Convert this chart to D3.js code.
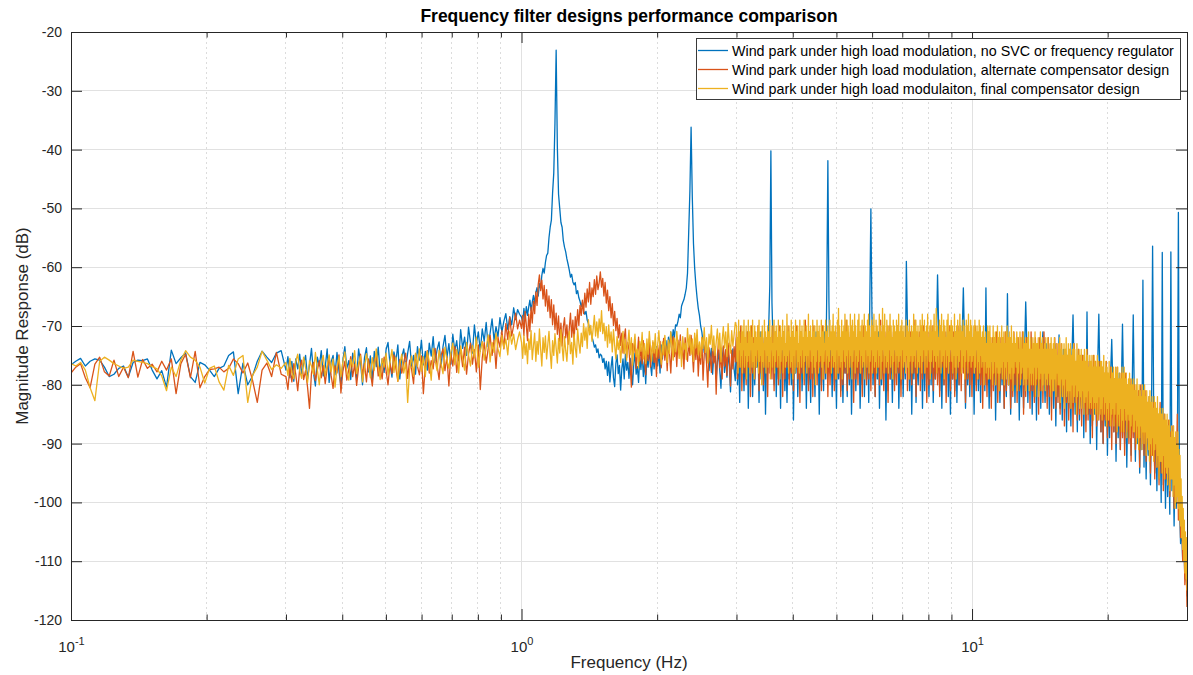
<!DOCTYPE html>
<html>
<head>
<meta charset="utf-8">
<script src="https://cdn.jsdelivr.net/npm/d3@7"></script>
<style>
  body { margin: 0; background: #fff; }
  svg { display: block; }
</style>
</head>
<body>
<svg id="chart" width="1193" height="675"></svg>
<script>
// ---------------------------------------------------------------
// Spectrum data. Each series is split into four frequency bands;
// the bins of a band are spaced logarithmically between its edges.
// ---------------------------------------------------------------
const bandEdges = [[0.1, 0.3], [0.3, 1.0], [1.0, 3.0], [3.0, 30]];

const seriesNames = [
  "Wind park under high load modulation, no SVC or frequency regulator",
  "Wind park under high load modulation, alternate compensator design",
  "Wind park under high load modulaiton, final compensator design"
];
const seriesColors = ["#0072BD", "#D95319", "#EDB120"];

const yTicks = [-120, -110, -100, -90, -80, -70, -60, -50, -40, -30, -20];
const xMajorTicks = [0.1, 1, 10];
const xTickBase = ["10", "10", "10"];
const xTickExp = ["-1", "0", "1"];
const xMinorTicks = [0.2, 0.3, 0.4, 0.5, 0.6, 0.7, 0.8, 0.9, 2, 3, 4, 5, 6, 7, 8, 9, 20];

// --- no SVC / no regulator (dB) ---
const noSvcA = [
-76.6,-76.0,-75.5,-76.8,-76.0,-75.6,-75.8,-77.0,-78.6,-78.2,
-77.2,-76.8,-78.7,-76.2,-75.8,-75.9,-75.6,-77.5,-79.0,-77.6,
-80.4,-74.1,-76.4,-75.4,-74.6,-78.6,-79.6,-76.2,-76.6,-77.5,
-78.6,-77.2,-76.8,-75.0,-74.4,-81.5,-76.3,-80.0,-78.5,-76.0,
-74.3,-75.3,-76.2,-74.6,-74.2];
const noSvcB = [
-77.5,-75.2,-78.8,-76.0,-79.4,-75.6,-77.3,-74.8,-78.1,-76.4,
-75.0,-79.0,-76.6,-73.8,-77.9,-80.2,-75.3,-76.8,-74.2,-78.5,
-77.0,-73.9,-79.6,-76.1,-75.0,-78.3,-74.5,-77.6,-80.3,-75.8,
-73.5,-77.2,-75.9,-79.1,-74.6,-76.7,-78.9,-73.9,-76.2,-80.0,
-75.4,-73.7,-77.8,-75.1,-79.3,-74.3,-76.9,-73.6,-78.0,-75.6,
-77.9,-74.0,-72.8,-76.5,-78.7,-74.4,-76.0,-73.2,-79.0,-75.3,
-73.9,-77.1,-74.6,-72.6,-76.8,-75.0,-78.2,-73.5,-75.8,-72.4,
-76.6,-74.3,-77.5,-72.9,-75.1,-71.8,-76.2,-74.0,-72.7,-77.0,
-73.5,-71.6,-75.4,-73.0,-76.5,-71.4,-74.2,-72.5,-75.9,-70.6,
-73.8,-71.9,-75.0,-70.2,-72.8,-74.6,-69.8,-73.1,-71.0,-74.3,
-70.5,-72.6,-69.4,-73.5,-71.2,-68.8,-72.4,-70.1,-71.8,-68.6,
-71.0,-69.2,-67.9,-70.6,-68.4,-69.8,-66.9,-68.9,-67.2,-68.0];
const noSvcC = [
-68.5,-69.4,-67.0,-68.8,-66.7,-68.2,-66.8,-65.6,-67.4,-66.0,
-64.8,-66.2,-64.3,-63.5,-64.9,-62.8,-63.6,-61.4,-60.2,-61.0,
-59.2,-58.0,-57.6,-55.0,-53.2,-52.0,-47.4,-44.0,-35.5,-23.1,
-39.5,-47.6,-50.0,-52.4,-53.2,-55.5,-56.6,-57.4,-58.6,-59.5,
-60.5,-61.7,-61.2,-62.5,-63.0,-62.6,-64.5,-64.0,-65.2,-65.8,
-66.7,-65.9,-67.4,-68.0,-67.5,-69.0,-69.6,-70.4,-71.0,-71.8,
-72.6,-73.6,-73.2,-74.5,-73.9,-75.4,-74.8,-75.0,-76.2,-75.5,
-77.3,-76.0,-78.4,-76.1,-79.5,-77.0,-75.2,-78.8,-80.3,-76.4,
-74.9,-78.1,-76.7,-80.9,-77.2,-75.6,-79.0,-74.8,-77.5,-76.2,
-78.9,-75.5,-77.8,-80.0,-76.4,-74.6,-78.2,-76.9,-79.6,-75.3,
-77.4,-74.4,-78.6,-76.0,-79.8,-75.1,-77.0,-73.8,-76.5,-78.4,
-74.7,-77.3,-75.4,-73.5,-76.8,-74.2,-78.0,-73.2,-75.6,-72.8,
-74.4,-72.5,-75.3,-71.9,-73.6,-71.0,-72.8,-70.6,-71.9,-69.8,
-70.0,-69.2,-68.0,-68.6,-66.6,-66.0,-65.5,-64.6,-63.5,-61.0,
-54.0,-47.0,-36.2,-48.0,-56.0,-60.2,-63.0,-65.2,-67.0,-68.2,
-70.0,-71.0,-72.8,-74.5,-73.2,-76.0,-74.4,-77.6,-75.3,-73.8,
-78.2,-75.0,-73.5,-79.0,-76.2,-74.1,-77.5,-80.6,-75.4,-73.6,
-77.9,-75.1,-78.7,-74.3,-76.8,-81.2,-75.9,-73.9,-77.4,-79.3];
const noSvcD = [
-72,-80,-74,-83,-71,-78,-75,-81,-73,-79,
-71,-84,-74,-78,-72,-82,-75,-80,-73,-77,
-74,-83,-71,-79,-73,-81,-72,-85,-74,-78,
-70,-63,-40.2,-66,-73,-80,-71,-82,-74,-79,
-72,-84,-73,-78,-71,-81,-75,-83,-72,-79,
-74,-80,-71,-86,-73,-78,-72,-82,-75,-79,
-71,-81,-74,-78,-72,-84,-73,-80,-75,-83,
-72,-79,-74,-82,-71,-78,-73,-85,-72,-80,
-74,-81,-71,-79,-64,-41.9,-66,-78,-73,-82,
-72,-80,-75,-84,-71,-79,-73,-81,-72,-83,
-74,-78,-71,-82,-73,-80,-72,-85,-74,-79,
-71,-81,-73,-78,-72,-84,-75,-80,-71,-82,
-73,-79,-72,-83,-66,-50.1,-68,-80,-74,-82,
-72,-79,-71,-84,-73,-80,-75,-78,-72,-86,
-73,-81,-71,-79,-74,-83,-72,-80,-73,-78,
-71,-84,-74,-80,-72,-82,-73,-79,-59,-70,
-74,-81,-72,-85,-73,-79,-71,-83,-74,-80,
-72,-78,-73,-84,-71,-81,-74,-79,-72,-82,
-73,-80,-71,-83,-74,-79,-72,-61.3,-70,-81,
-73,-84,-72,-80,-74,-78,-71,-82,-73,-85,
-72,-79,-74,-81,-71,-83,-73,-80,-72,-78,
-71,-63.5,-72,-84,-73,-80,-74,-82,-71,-79,
-73,-85,-72,-80,-74,-81,-71,-83,-73,-79,
-72,-81,-63.5,-80,-74,-84,-73,-82,-75,-80,
-72,-86,-74,-81,-73,-83,-75,-80,-72,-84,
-74,-82,-64.5,-80,-73,-85,-75,-81,-72,-83,
-74,-80,-73,-86,-75,-82,-72,-84,-74,-65.9,
-73,-83,-75,-81,-72,-85,-74,-82,-73,-86,
-75,-81,-73,-84,-74,-71,-76,-83,-73,-82,
-75,-85,-74,-81,-76,-84,-73,-87,-75,-82,
-71.5,-84,-76,-86,-74,-83,-77,-88,-75,-84,
-76,-87,-75,-68.1,-77,-85,-76,-88,-74,-86,
-77,-84,-75,-89,-76,-86,-67.6,-85,-77,-90,
-76,-87,-78,-85,-77,-91,-76,-68,-79,-88,
-78,-90,-79,-87,-77,-92,-80,-89,-78,-72.3,
-80,-88,-79,-93,-81,-89,-78,-91,-80,-69.7,
-81,-90,-79,-94,-82,-89,-80,-92,-81,-68.1,
-82,-93,-81,-90,-83,-95,-82,-91,-62.2,-94,
-83,-96,-84,-92,-82,-97,-85,-56.4,-84,-95,
-86,-98,-85,-96,-87,-100,-57.5,-97,-87,-101,
-88,-99,-90,-102,-57.4,-98,-91,-104,-93,-101,
-95,-50.7,-100,-107,-104,-110,-106,-113,-109,-116];

// --- alternate compensator design (dB) ---
const altA = [
-78.0,-77.0,-76.4,-78.8,-80.5,-76.5,-75.3,-77.8,-78.5,-75.8,
-78.6,-77.0,-78.8,-74.3,-78.7,-75.7,-77.2,-76.5,-77.8,-76.0,
-77.5,-75.6,-81.5,-76.4,-74.8,-78.8,-74.3,-80.5,-78.6,-77.4,
-77.3,-77.0,-77.8,-77.2,-75.6,-76.4,-78.0,-76.3,-79.2,-83.0,
-77.5,-76.3,-78.6,-74.5,-78.2];
const altB = [
-78.6,-80.8,-77.0,-79.5,-76.4,-78.2,-81.0,-77.3,-75.8,-79.1,
-77.6,-80.4,-84.0,-78.0,-76.2,-79.3,-77.5,-75.9,-78.8,-76.7,
-79.8,-77.1,-75.4,-78.4,-80.6,-76.8,-78.0,-74.9,-81.4,-77.7,
-76.0,-79.2,-77.4,-75.2,-78.6,-76.5,-80.1,-77.0,-74.8,-78.3,
-76.4,-79.5,-75.6,-77.8,-80.2,-76.1,-74.7,-78.5,-76.9,-79.0,
-75.3,-77.6,-80.0,-76.3,-78.1,-74.9,-77.2,-79.4,-75.7,-78.0,
-76.2,-74.6,-78.9,-75.8,-77.4,-79.8,-74.8,-76.9,-78.3,-75.1,
-81.5,-76.6,-74.2,-78.0,-75.9,-77.3,-73.8,-76.7,-79.1,-75.0,
-73.9,-77.6,-75.2,-80.2,-74.6,-76.8,-73.5,-77.9,-75.0,-74.2,
-76.9,-73.6,-78.2,-74.8,-72.9,-76.5,-74.0,-77.8,-73.2,-80.8,
-75.4,-72.8,-76.3,-73.9,-71.6,-75.0,-72.4,-77.2,-71.9,-73.6,
-70.8,-73.9,-69.6,-72.3,-68.5,-71.7,-69.9,-67.8,-70.5,-69.0];
const altC = [
-70.4,-68.2,-71.6,-67.5,-69.8,-72.5,-68.0,-70.9,-66.8,-69.5,
-65.8,-67.9,-64.2,-66.5,-62.9,-61.3,-64.0,-62.2,-65.4,-63.1,
-66.6,-63.8,-67.5,-64.9,-68.6,-65.5,-69.8,-66.4,-70.6,-67.8,
-71.4,-68.3,-72.6,-69.5,-73.4,-70.2,-68.6,-72.0,-69.8,-73.1,
-70.4,-67.8,-71.9,-69.0,-72.7,-68.4,-70.6,-67.2,-69.9,-66.5,
-68.2,-65.6,-67.9,-64.4,-66.8,-63.7,-65.9,-62.6,-66.3,-63.5,
-65.0,-62.1,-64.6,-61.5,-63.8,-62.7,-60.8,-63.4,-61.9,-64.9,
-62.6,-66.1,-63.9,-67.4,-65.0,-68.6,-66.2,-69.9,-67.5,-70.8,
-68.7,-72.0,-69.8,-73.3,-71.2,-74.6,-72.0,-70.5,-75.4,-72.8,
-74.1,-76.8,-80.4,-73.0,-74.5,-72.3,-77.2,-74.8,-71.9,-76.0,
-73.6,-76.4,-72.5,-75.7,-78.3,-73.1,-75.9,-72.2,-77.0,-74.4,
-72.8,-76.2,-74.0,-78.6,-73.3,-75.5,-72.6,-77.1,-74.7,-72.1,
-75.8,-73.4,-77.6,-72.9,-74.8,-78.0,-73.6,-71.8,-75.2,-73.0,
-76.9,-72.4,-74.5,-71.5,-75.6,-73.2,-77.3,-72.0,-74.1,-76.0,
-72.7,-75.0,-71.6,-74.4,-77.8,-73.0,-75.7,-72.3,-78.5,-74.2,
-76.5,-72.0,-79.2,-74.9,-72.8,-76.6,-80.4,-73.7,-75.5,-77.9,
-73.1,-76.3,-74.4,-81.6,-75.0,-72.6,-77.1,-74.7,-79.0,-73.4,
-76.8,-74.0,-78.4,-72.9,-75.6,-80.2,-74.1,-77.3,-73.5,-76.1];
const altD = [
-71,-79,-73,-77,-70,-81,-72,-78,-74,-80,
-71,-77,-73,-82,-70,-78,-72,-79,-74,-76,
-70,-81,-73,-78,-71,-80,-72,-77,-74,-82,
-71,-78,-73,-79,-70,-81,-72,-77,-73,-80,
-70,-78,-72,-82,-71,-79,-74,-77,-70,-80,
-73,-78,-71,-81,-72,-77,-70,-79,-73,-83,
-71,-78,-72,-80,-69,-77,-73,-81,-71,-79,
-72,-82,-70,-78,-73,-80,-71,-77,-72,-81,
-70,-79,-73,-78,-71,-82,-72,-80,-74,-77,
-71,-81,-72,-79,-70,-78,-73,-82,-71,-80,
-72,-78,-69,-81,-73,-79,-71,-77,-72,-83,
-70,-79,-73,-80,-71,-78,-72,-82,-70,-77,
-73,-80,-71,-79,-72,-81,-70,-78,-73,-82,
-71,-77,-72,-80,-69,-79,-73,-81,-71,-78,
-72,-83,-70,-79,-73,-78,-71,-81,-72,-80,
-70,-78,-73,-82,-71,-79,-72,-77,-70,-81,
-73,-79,-71,-80,-72,-78,-69,-82,-73,-77,
-71,-81,-72,-79,-70,-78,-73,-83,-71,-80,
-72,-78,-70,-81,-73,-79,-71,-80,-72,-82,
-70,-77,-73,-80,-71,-83,-72,-78,-70,-81,
-73,-79,-71,-82,-72,-78,-70,-80,-73,-81,
-71,-78,-72,-83,-70,-79,-73,-80,-71,-82,
-72,-78,-70,-81,-73,-79,-71,-80,-72,-84,
-72,-80,-74,-82,-71,-79,-73,-84,-72,-81,
-74,-80,-71,-83,-73,-81,-72,-79,-74,-84,
-71,-81,-73,-80,-72,-84,-74,-82,-71,-80,
-73,-83,-72,-81,-74,-79,-71,-85,-73,-82,
-72,-80,-74,-84,-71,-81,-73,-83,-72,-80,
-74,-85,-72,-81,-73,-83,-71,-80,-74,-84,
-72,-82,-73,-86,-74,-81,-72,-84,-73,-83,
-74,-85,-73,-82,-75,-87,-74,-83,-76,-86,
-74,-84,-75,-88,-73,-83,-76,-86,-74,-85,
-76,-87,-75,-84,-77,-88,-74,-86,-76,-85,
-77,-89,-75,-84,-76,-87,-78,-86,-76,-88,
-77,-90,-78,-86,-76,-89,-79,-87,-77,-91,
-78,-88,-79,-90,-77,-87,-80,-91,-78,-89,
-79,-92,-78,-88,-80,-90,-79,-93,-81,-89,
-80,-91,-82,-89,-81,-94,-80,-90,-83,-92,
-81,-93,-83,-90,-82,-95,-84,-92,-83,-96,
-84,-94,-85,-97,-83,-95,-86,-98,-85,-96,
-87,-97,-86,-99,-88,-96,-87,-101,-90,-98,
-85,-103,-93,-106,-100,-110,-104,-114,-108,-117.8];

// --- final compensator design (dB) ---
const finalA = [
-76.4,-76.8,-76.2,-77.5,-80.5,-82.7,-76.0,-75.3,-75.8,-76.4,
-76.8,-77.2,-77.0,-75.8,-76.0,-76.2,-76.4,-76.9,-77.3,-78.5,
-81.0,-77.0,-78.6,-75.8,-74.2,-75.3,-75.8,-77.0,-79.7,-77.2,
-76.8,-79.5,-80.9,-76.7,-78.4,-75.6,-75.0,-83.0,-78.4,-77.0,
-74.3,-75.8,-77.4,-76.6,-77.2];
const finalB = [
-76.2,-78.4,-75.5,-77.9,-79.0,-76.0,-74.8,-77.6,-78.9,-75.3,
-77.1,-79.6,-75.9,-76.8,-78.2,-74.5,-77.4,-80.0,-76.3,-75.0,
-78.5,-76.7,-74.9,-77.8,-75.6,-80.4,-77.0,-75.2,-78.6,-76.1,
-74.4,-77.7,-79.2,-75.7,-76.9,-74.2,-78.1,-76.4,-75.1,-79.5,
-77.2,-74.7,-76.6,-78.8,-75.4,-77.5,-73.9,-76.8,-79.1,-75.5,
-77.0,-74.6,-78.3,-76.1,-74.0,-77.9,-75.3,-79.4,-76.5,-74.8,
-78.0,-76.2,-83.0,-77.4,-75.1,-78.5,-74.6,-76.9,-73.9,-77.7,
-75.2,-78.6,-74.3,-76.0,-79.2,-73.8,-75.9,-77.6,-74.1,-76.4,
-78.1,-73.6,-75.8,-77.2,-74.5,-72.9,-76.6,-74.0,-78.0,-73.4,
-75.6,-77.5,-72.8,-74.9,-76.8,-73.3,-75.4,-71.9,-77.0,-74.2,
-72.6,-75.8,-73.7,-71.5,-76.1,-72.8,-74.5,-71.2,-73.9,-75.2,
-71.6,-73.8,-72.2,-74.9,-70.9,-73.1,-71.4,-74.0,-72.3,-71.0];
const finalC = [
-72.8,-75.5,-71.6,-74.9,-73.0,-76.4,-72.2,-74.0,-70.8,-75.7,
-73.4,-71.2,-76.0,-72.6,-74.8,-70.5,-73.9,-76.8,-72.0,-74.5,
-71.7,-75.6,-73.2,-70.9,-74.4,-77.2,-72.5,-75.0,-71.3,-73.8,
-76.3,-72.1,-74.6,-70.6,-73.5,-75.9,-71.8,-74.2,-76.0,-72.4,
-70.9,-74.7,-72.8,-76.5,-71.4,-73.7,-75.3,-70.5,-72.9,-74.6,
-71.2,-73.5,-69.6,-72.4,-70.3,-73.8,-68.9,-71.5,-69.9,-72.6,
-70.4,-68.2,-71.7,-69.3,-72.0,-68.8,-70.9,-67.4,-71.3,-69.5,
-72.5,-70.1,-73.6,-69.8,-72.9,-71.0,-74.4,-70.6,-73.3,-75.6,
-71.8,-74.0,-72.4,-76.2,-73.1,-70.9,-74.7,-72.3,-75.8,-73.0,
-70.7,-74.9,-72.0,-76.7,-73.5,-71.4,-75.2,-73.9,-77.1,-72.6,
-74.3,-71.1,-75.6,-73.0,-76.4,-72.2,-74.8,-70.9,-73.7,-76.0,
-72.5,-74.6,-71.3,-75.3,-73.2,-70.8,-74.1,-76.5,-72.7,-74.9,
-71.6,-73.9,-76.2,-72.4,-74.7,-71.0,-73.5,-75.8,-72.1,-74.4,
-70.9,-73.2,-75.5,-72.6,-76.9,-71.8,-74.0,-72.9,-75.7,-70.4,
-73.6,-71.5,-74.8,-72.2,-76.0,-71.2,-73.7,-70.6,-74.9,-72.7,
-75.4,-71.9,-73.8,-70.3,-74.5,-72.0,-76.3,-71.4,-73.1,-69.9,
-74.2,-71.7,-75.0,-72.8,-70.5,-73.9,-71.2,-76.1,-72.5,-70.1,
-73.7,-71.0,-75.2,-69.6,-72.9,-74.6,-70.8,-73.4,-71.5,-69.4];
const finalD = [
-70,-76,-72,-78,-69,-74,-71,-77,-73,-75,
-70,-78,-71,-74,-69,-77,-72,-75,-70,-79,
-73,-76,-69,-75,-71,-78,-70,-74,-72,-77,
-69,-76,-73,-79,-70,-75,-71,-77,-72,-74,
-70,-78,-69,-76,-72,-75,-71,-80,-70,-76,
-73,-77,-69,-74,-71,-78,-72,-75,-70,-77,
-71,-76,-69,-79,-72,-74,-70,-77,-73,-75,
-69,-78,-71,-76,-70,-74,-72,-77,-69,-75,
-71,-79,-70,-76,-72,-74,-69,-78,-71,-75,
-70,-77,-73,-76,-68,-75,-71,-78,-70,-74,
-72,-77,-69,-76,-71,-79,-70,-75,-72,-78,
-69,-74,-71,-77,-70,-76,-73,-78,-69,-75,
-71,-77,-70,-74,-72,-79,-69,-76,-71,-75,
-70,-78,-72,-75,-68,-77,-71,-74,-70,-76,
-72,-78,-69,-75,-71,-77,-70,-80,-72,-76,
-69,-74,-71,-78,-70,-76,-72,-75,-69,-77,
-71,-79,-70,-76,-73,-74,-69,-78,-71,-75,
-70,-77,-72,-76,-69,-74,-71,-78,-70,-75,
-68,-77,-71,-76,-70,-79,-72,-74,-69,-78,
-67,-75,-70,-77,-72,-76,-69,-79,-71,-74,
-70,-76,-68,-77,-71,-75,-69,-78,-70,-74,
-72,-77,-68,-75,-70,-79,-69,-76,-71,-74,
-68,-78,-70,-75,-72,-77,-69,-76,-68,-74,
-71,-78,-70,-75,-69,-77,-72,-76,-68,-79,
-70,-74,-71,-77,-69,-75,-68,-78,-70,-76,
-72,-74,-69,-78,-70,-75,-68,-77,-71,-76,
-69,-78,-70,-74,-72,-77,-68,-75,-70,-79,
-71,-76,-67,-74,-70,-78,-68,-75,-72,-77,
-69,-76,-70,-78,-71,-74,-68,-77,-70,-75,
-72,-79,-69,-76,-70,-74,-71,-78,-69,-75,
-70,-77,-68,-76,-71,-75,-70,-79,-69,-74,
-71,-77,-70,-76,-72,-78,-69,-75,-70,-77,
-71,-79,-69,-76,-72,-75,-70,-78,-71,-76,
-68,-75,-70,-77,-69,-74,-71,-78,-70,-76,
-72,-77,-69,-75,-70,-78,-68,-76,-71,-74,
-69,-78,-71,-75,-70,-77,-68,-74,-72,-76,
-70,-79,-69,-76,-71,-74,-70,-77,-68,-75,
-71,-76,-67,-78,-70,-75,-72,-77,-69,-74,
-70,-78,-68,-76,-71,-75,-69,-79,-70,-74,
-72,-77,-69,-75,-68,-78,-71,-76,-70,-74,
-69,-76,-70,-78,-72,-75,-68,-77,-71,-79,
-70,-75,-69,-77,-71,-76,-68,-74,-70,-78,
-71,-77,-69,-75,-70,-79,-72,-76,-69,-74,
-70,-78,-68,-76,-71,-75,-69,-77,-70,-76,
-72,-75,-70,-78,-69,-77,-71,-74,-70,-79,
-71,-76,-69,-78,-70,-75,-72,-77,-71,-76,
-70,-80,-72,-76,-71,-78,-73,-77,-70,-79,
-71,-77,-70,-79,-72,-76,-73,-80,-70,-78,
-72,-76,-71,-80,-73,-77,-70,-78,-72,-81,
-71,-78,-73,-77,-70,-79,-72,-76,-71,-80,
-73,-77,-71,-79,-70,-76,-72,-80,-71,-78,
-72,-79,-70,-77,-73,-81,-71,-78,-72,-76,
-73,-77,-71,-81,-72,-78,-74,-76,-71,-80,
-72,-78,-74,-77,-71,-80,-73,-79,-72,-81,
-73,-79,-72,-77,-71,-81,-74,-78,-72,-80,
-74,-78,-72,-80,-73,-77,-71,-82,-73,-79,
-73,-77,-72,-82,-74,-79,-71,-78,-73,-81,
-72,-80,-74,-78,-73,-81,-72,-79,-74,-80,
-72,-78,-74,-80,-73,-82,-72,-79,-74,-81,
-73,-81,-72,-79,-74,-82,-73,-78,-75,-80,
-73,-80,-72,-83,-74,-79,-73,-82,-75,-80,
-73,-84,-74,-79,-72,-82,-75,-81,-73,-83,
-74,-81,-73,-84,-75,-80,-74,-83,-73,-82,
-74,-80,-76,-85,-73,-82,-75,-81,-74,-84,
-75,-82,-74,-84,-76,-81,-75,-85,-74,-83,
-76,-82,-74,-85,-75,-81,-77,-84,-75,-83,
-76,-84,-75,-82,-77,-86,-75,-83,-76,-85,
-77,-83,-75,-86,-76,-82,-77,-85,-76,-84,
-76,-86,-77,-82,-75,-85,-78,-83,-76,-87,
-77,-84,-78,-86,-76,-83,-79,-87,-77,-85,
-78,-84,-77,-87,-79,-85,-77,-83,-78,-88,
-77,-85,-79,-87,-78,-84,-79,-88,-77,-86,
-78,-88,-77,-84,-79,-86,-78,-89,-80,-85,
-79,-86,-78,-89,-80,-87,-79,-85,-80,-88,
-79,-88,-81,-86,-80,-90,-79,-87,-82,-91,
-80,-89,-81,-87,-82,-91,-80,-88,-81,-90,
-80,-88,-82,-92,-81,-89,-83,-91,-82,-93,
-81,-90,-83,-92,-82,-89,-84,-93,-82,-91,
-83,-90,-84,-94,-82,-92,-85,-96,-84,-93,
-84,-93,-85,-95,-84,-92,-86,-96,-85,-94,
-86,-95,-85,-97,-87,-94,-86,-98,-89,-96,
-87,-96,-88,-99,-87,-97,-89,-101,-88,-100,
-90,-99,-88,-101,-91,-103,-92,-104,-96,-106,
-99,-108,-101,-110,-103,-112,-105,-113,-106,-115];

const seriesBands = [
  [noSvcA, noSvcB, noSvcC, noSvcD],
  [altA, altB, altC, altD],
  [finalA, finalB, finalC, finalD]
];

// ---------------------------------------------------------------
// Layout
// ---------------------------------------------------------------
const plotL = 71, plotR = 1187, plotT = 32, plotB = 620;
const fontFamily = "'Liberation Sans', Arial, Helvetica, sans-serif";
const ink = "#262626";

const x = d3.scaleLog().domain([0.1, 30]).range([plotL, plotR]);
const y = d3.scaleLinear().domain([-120, -20]).range([plotB, plotT]);

// bin frequencies for one band of one series
function bandPoints(values, k) {
  const [lo, hi] = bandEdges[k];
  const last = k === bandEdges.length - 1;
  const n = last ? values.length - 1 : values.length;
  return values.map((v, i) => ({ f: lo * Math.pow(hi / lo, i / n), v }));
}
const seriesPoints = seriesBands.map(bands => bands.flatMap((vals, k) => bandPoints(vals, k)));

const svg = d3.select("#chart");

svg.append("defs").append("clipPath").attr("id", "plotClip")
  .append("rect").attr("x", plotL).attr("y", plotT)
  .attr("width", plotR - plotL).attr("height", plotB - plotT);

// ---- grid ----
const grid = svg.append("g").attr("shape-rendering", "crispEdges");
grid.selectAll("line.ymaj").data(yTicks).join("line")
  .attr("class", "ymaj")
  .attr("x1", plotL).attr("x2", plotR)
  .attr("y1", d => y(d)).attr("y2", d => y(d))
  .attr("stroke", "#e1e1e1").attr("stroke-width", 1);
grid.selectAll("line.xmin").data(xMinorTicks).join("line")
  .attr("class", "xmin")
  .attr("x1", d => x(d)).attr("x2", d => x(d))
  .attr("y1", plotT).attr("y2", plotB)
  .attr("stroke", "#dcdcdc").attr("stroke-width", 1)
  .attr("stroke-dasharray", "2,3");
grid.selectAll("line.xmaj").data(xMajorTicks).join("line")
  .attr("class", "xmaj")
  .attr("x1", d => x(d)).attr("x2", d => x(d))
  .attr("y1", plotT).attr("y2", plotB)
  .attr("stroke", "#e1e1e1").attr("stroke-width", 1);

// ---- spectra ----
const line = d3.line().x(d => x(d.f)).y(d => y(d.v));
svg.append("g").attr("clip-path", "url(#plotClip)")
  .selectAll("path").data(seriesPoints).join("path")
  .attr("d", line)
  .attr("fill", "none")
  .attr("stroke", (d, i) => seriesColors[i])
  .attr("stroke-width", 1.3)
  .attr("stroke-linejoin", "round");

// ---- axes (ticks inside, box on) ----
function styleAxis(g) {
  g.attr("font-family", fontFamily).attr("font-size", 14).attr("color", ink);
  g.select(".domain").remove();
}
svg.append("g").attr("transform", `translate(0,${plotB})`)
  .call(d3.axisBottom(x).tickValues(xMinorTicks).tickSize(-5.5).tickSizeOuter(0).tickFormat(""))
  .call(styleAxis);
svg.append("g").attr("transform", `translate(0,${plotT})`)
  .call(d3.axisTop(x).tickValues(xMinorTicks).tickSize(-5.5).tickSizeOuter(0).tickFormat(""))
  .call(styleAxis);
svg.append("g").attr("transform", `translate(0,${plotT})`)
  .call(d3.axisTop(x).tickValues(xMajorTicks).tickSize(-11).tickSizeOuter(0).tickFormat(""))
  .call(styleAxis);
const xAxisG = svg.append("g").attr("transform", `translate(0,${plotB})`)
  .call(d3.axisBottom(x).tickValues(xMajorTicks).tickSize(-11).tickSizeOuter(0))
  .call(styleAxis);
// power-of-ten labels with superscript exponent
xAxisG.selectAll(".tick text").each(function (d, i) {
  const t = d3.select(this).text(null).attr("dy", null).attr("y", 32)
    .attr("font-size", 15);
  t.append("tspan").text(xTickBase[i]);
  t.append("tspan").text(xTickExp[i]).attr("font-size", 11).attr("dy", -7);
});

svg.append("g").attr("transform", `translate(${plotL},0)`)
  .call(d3.axisLeft(y).tickValues(yTicks).tickSize(-11).tickSizeOuter(0).tickPadding(9).tickFormat(d => String(d)))
  .call(styleAxis);
svg.append("g").attr("transform", `translate(${plotR},0)`)
  .call(d3.axisRight(y).tickValues(yTicks).tickSize(-11).tickSizeOuter(0).tickFormat(""))
  .call(styleAxis);

svg.append("rect")
  .attr("x", plotL).attr("y", plotT)
  .attr("width", plotR - plotL).attr("height", plotB - plotT)
  .attr("fill", "none").attr("stroke", ink).attr("stroke-width", 1)
  .attr("shape-rendering", "crispEdges");

// ---- titles ----
svg.append("text")
  .attr("x", (plotL + plotR) / 2).attr("y", 22)
  .attr("text-anchor", "middle")
  .attr("font-family", fontFamily).attr("font-size", 17.5).attr("font-weight", "bold")
  .attr("fill", "#000")
  .text("Frequency filter designs performance comparison");
svg.append("text")
  .attr("x", (plotL + plotR) / 2).attr("y", 668)
  .attr("text-anchor", "middle")
  .attr("font-family", fontFamily).attr("font-size", 17)
  .attr("fill", ink)
  .text("Frequency (Hz)");
svg.append("text")
  .attr("transform", `translate(28,${(plotT + plotB) / 2}) rotate(-90)`)
  .attr("text-anchor", "middle")
  .attr("font-family", fontFamily).attr("font-size", 17)
  .attr("fill", ink)
  .text("Magnitude Response (dB)");

// ---- legend ----
const legend = svg.append("g").attr("transform", "translate(696,38)");
legend.append("rect")
  .attr("x", 0).attr("y", 0).attr("width", 484).attr("height", 61)
  .attr("fill", "#fff").attr("stroke", "#3a3a3a").attr("stroke-width", 1)
  .attr("shape-rendering", "crispEdges");
const rows = legend.selectAll("g.row").data(seriesNames).join("g")
  .attr("class", "row")
  .attr("transform", (d, i) => `translate(0,${12.5 + i * 19})`);
rows.append("line")
  .attr("x1", 2).attr("x2", 32).attr("y1", 0).attr("y2", 0)
  .attr("stroke", (d, i) => seriesColors[i]).attr("stroke-width", 1.3);
rows.append("text")
  .attr("x", 36).attr("y", 5)
  .attr("font-family", fontFamily).attr("font-size", 14.3)
  .attr("fill", "#000")
  .text(d => d);
</script>
</body>
</html>
